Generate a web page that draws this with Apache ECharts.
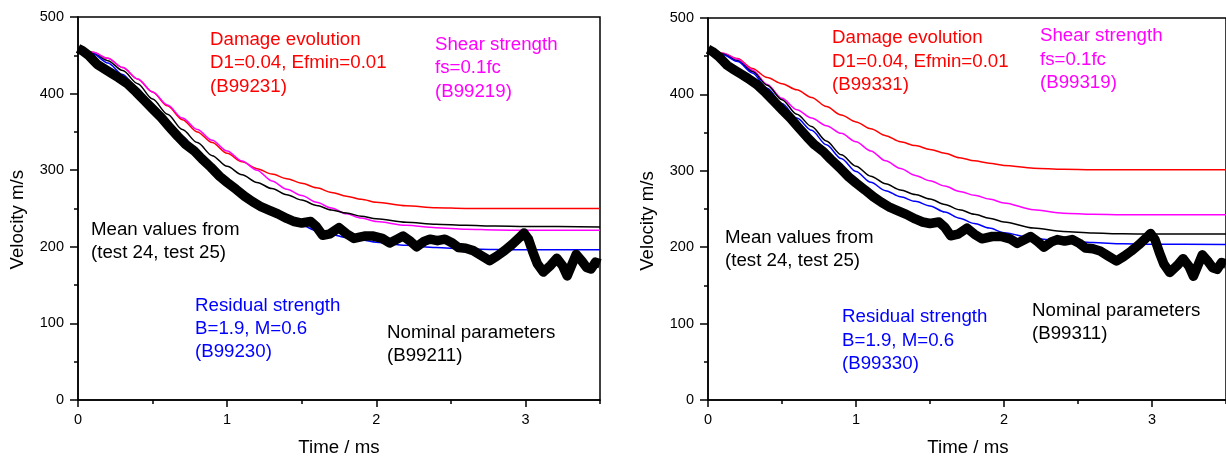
<!DOCTYPE html>
<html>
<head>
<meta charset="utf-8">
<script src="https://cdn.jsdelivr.net/npm/echarts@6/dist/echarts.min.js"></script>
<style>
  html, body { margin: 0; padding: 0; background: #fff; }
  #chart { width: 1226px; height: 459px; }
</style>
</head>
<body>
<div id="chart"></div>
<script>
// Simulation output time base (ms)
const modelTime = [0, 0.1, 0.2, 0.3, 0.4, 0.5, 0.6, 0.7, 0.8, 0.9, 1.0, 1.1, 1.2, 1.3, 1.4, 1.5, 1.6, 1.7, 1.8, 1.9, 2.0, 2.2, 2.4, 2.6, 2.8, 3.0, 3.5];

// Series B992xx (left panel), velocity in m/s
const leftDamage   = [458, 454, 446, 434, 419, 402, 384, 366, 350, 336, 322, 311, 302, 295, 289, 283, 277, 271, 266, 262, 258, 253.5, 251, 250, 250, 250, 250];
const leftShear    = [458, 454, 446, 434, 419, 402, 385, 368, 353, 339, 325, 312, 300, 286, 275, 267, 258, 250.5, 243, 237.5, 233, 228, 225, 223, 222, 221.5, 221.5];
const leftNominal  = [458, 452, 443, 430, 413, 393, 373, 353, 336, 319, 305, 294, 284, 276, 268, 261, 254, 248, 244, 240, 236.5, 232, 229.5, 228, 227, 226.5, 226];
const leftResidual = [458, 452, 440, 425, 406, 385, 364, 344, 325, 306, 288, 272, 258, 246, 236, 228, 221, 216, 212, 209, 206, 202, 199, 197, 196.5, 196, 196];

// Series B993xx (right panel), velocity in m/s
const rightDamage   = [458, 454, 447, 434, 422, 414, 406, 396, 384, 373, 364, 355, 346, 338, 333, 328, 323, 317, 313, 310, 307, 303.5, 302, 301.5, 301.5, 301.5, 301.5];
const rightShear    = [458, 454, 446, 432, 413, 395, 380, 369, 359, 349, 338, 326, 313, 303, 294, 287, 280, 273, 268, 263, 258, 249, 244.5, 243, 242.5, 242.5, 242.5];
const rightNominal  = [458, 453, 444, 430, 412, 393, 374, 358, 339, 321, 306, 293, 283, 275, 269, 263, 256, 249, 243, 238, 233, 225, 220.5, 218.5, 217.5, 217.3, 217.2];
const rightResidual = [458, 452, 443, 428, 408, 388, 369, 353, 334, 316, 299, 285, 274, 266, 260, 254, 246, 238, 231, 225, 219, 211.5, 208, 206, 204.5, 204, 203.5];

// Measured mean of test 24 and test 25
const expTime = [0, 0.03, 0.07, 0.1, 0.13, 0.17, 0.22, 0.27, 0.33, 0.39, 0.445, 0.5, 0.557, 0.61, 0.67, 0.72, 0.78, 0.83, 0.89, 0.95, 1.0, 1.06, 1.117, 1.17, 1.23, 1.28, 1.34, 1.4, 1.45, 1.5, 1.56, 1.6, 1.64, 1.69, 1.75, 1.8, 1.85, 1.92, 1.98, 2.04, 2.09, 2.14, 2.18, 2.23, 2.27, 2.32, 2.36, 2.41, 2.46, 2.51, 2.55, 2.6, 2.65, 2.7, 2.76, 2.81, 2.86, 2.91, 2.96, 2.99, 3.02, 3.05, 3.08, 3.12, 3.17, 3.21, 3.25, 3.28, 3.31, 3.34, 3.38, 3.41, 3.44, 3.47, 3.5];
const expVelocity = [459, 456, 450, 444, 438, 433, 427, 421, 413, 402, 391, 380, 369, 357, 344, 334, 325, 315, 304, 292, 284, 275, 266, 259, 252, 248, 243, 237, 233, 231, 233, 226, 215, 217, 225, 217, 211, 214, 214, 211, 205, 210, 214, 207, 200, 207, 210, 208, 210, 205, 199, 198, 195, 189, 182, 188, 195, 203, 212, 218, 210, 193, 178, 167, 176, 185, 175, 162, 176, 190, 181, 173, 171, 180, 178];

// Axis ticks
const xMajorTicks = [0, 1, 2, 3];
const xMinorTicks = [0.5, 1.5, 2.5, 3.5];
const yTickStep = 100;

const FONT_FAMILY = '"Liberation Sans", Arial, sans-serif';
const TEXT_FONT = '18.7px ' + FONT_FAMILY;
const RED = '#ff0000', MAGENTA = '#ff00ff', BLUE = '#0000ff', BLACK = '#000000';

function pairs(t, v) { return t.map((x, i) => [x, v[i]]); }

function mainXAxis(gridIndex) {
  return {
    type: 'value', gridIndex, min: 0, max: 3.5,
    axisLine: { show: true, onZero: false, lineStyle: { color: BLACK, width: 1.5 } },
    axisTick: { show: true, customValues: xMajorTicks, length: 7, lineStyle: { color: BLACK, width: 1.5 } },
    axisLabel: { show: true, customValues: xMajorTicks, margin: 12, color: BLACK, fontSize: 14.5, fontFamily: FONT_FAMILY },
    splitLine: { show: false }
  };
}
function minorXAxis(gridIndex) {
  return {
    type: 'value', gridIndex, min: 0, max: 3.5, position: 'bottom',
    axisLine: { show: false, onZero: false },
    axisTick: { show: true, customValues: xMinorTicks, length: 4, lineStyle: { color: BLACK, width: 1.5 } },
    axisLabel: { show: false },
    splitLine: { show: false }
  };
}
function yAxisFor(gridIndex) {
  return {
    type: 'value', gridIndex, min: 0, max: 500, interval: yTickStep,
    axisLine: { show: true, onZero: false, lineStyle: { color: BLACK, width: 1.5 } },
    axisTick: { show: true, length: 8, lineStyle: { color: BLACK, width: 1.5 } },
    minorTick: { show: true, splitNumber: 2, length: 4, lineStyle: { color: BLACK, width: 1.5 } },
    axisLabel: { margin: 14, color: BLACK, fontSize: 14.5, fontFamily: FONT_FAMILY },
    splitLine: { show: false }
  };
}
function modelLine(name, data, color, xi, yi) {
  return {
    name, type: 'line', xAxisIndex: xi, yAxisIndex: yi, data,
    showSymbol: false, symbol: 'none', smooth: 0.3, smoothMonotone: 'x',
    lineStyle: { color, width: 1.5 }, z: 2
  };
}
function testLine(xi, yi) {
  return {
    name: 'Mean values from (test 24, test 25)', type: 'line', xAxisIndex: xi, yAxisIndex: yi,
    data: pairs(expTime, expVelocity), showSymbol: false, symbol: 'none',
    lineStyle: { color: BLACK, width: 9.5, join: 'round', cap: 'butt' }, z: 3
  };
}
function note(x, y, lines, color) {
  return {
    type: 'text', x, y, silent: true,
    style: { text: lines.join('\n'), fill: color, font: TEXT_FONT, lineHeight: 23.3, align: 'left', verticalAlign: 'top' }
  };
}
function title(x, y, text, rotation) {
  return {
    type: 'text', x, y, rotation: rotation || 0, silent: true,
    style: { text, fill: BLACK, font: TEXT_FONT, align: 'center', verticalAlign: 'middle' }
  };
}

const chart = echarts.init(document.getElementById('chart'), null, { renderer: 'canvas' });
chart.setOption({
  backgroundColor: '#ffffff',
  animation: false,
  grid: [
    { left: 78, top: 17, width: 522, height: 383, show: true, borderColor: BLACK, borderWidth: 1.5, backgroundColor: 'transparent' },
    { left: 708, top: 18, width: 520, height: 382, show: true, borderColor: BLACK, borderWidth: 1.5, backgroundColor: 'transparent' }
  ],
  xAxis: [mainXAxis(0), minorXAxis(0), mainXAxis(1), minorXAxis(1)],
  yAxis: [yAxisFor(0), yAxisFor(1)],
  series: [
    modelLine('B99231', pairs(modelTime, leftDamage), RED, 0, 0),
    modelLine('B99219', pairs(modelTime, leftShear), MAGENTA, 0, 0),
    modelLine('B99211', pairs(modelTime, leftNominal), BLACK, 0, 0),
    modelLine('B99230', pairs(modelTime, leftResidual), BLUE, 0, 0),
    testLine(0, 0),
    modelLine('B99331', pairs(modelTime, rightDamage), RED, 2, 1),
    modelLine('B99319', pairs(modelTime, rightShear), MAGENTA, 2, 1),
    modelLine('B99311', pairs(modelTime, rightNominal), BLACK, 2, 1),
    modelLine('B99330', pairs(modelTime, rightResidual), BLUE, 2, 1),
    testLine(2, 1)
  ],
  graphic: [
    // left panel
    note(210, 28.3, ['Damage evolution', 'D1=0.04, Efmin=0.01', '(B99231)'], RED),
    note(435, 33.3, ['Shear strength', 'fs=0.1fc', '(B99219)'], MAGENTA),
    note(91, 218, ['Mean values from', '(test 24, test 25)'], BLACK),
    note(195, 294, ['Residual strength', 'B=1.9, M=0.6', '(B99230)'], BLUE),
    note(387, 321, ['Nominal parameters', '(B99211)'], BLACK),
    title(339, 447.5, 'Time / ms'),
    title(18.3, 219.7, 'Velocity m/s', Math.PI / 2),
    // right panel
    note(832, 26.7, ['Damage evolution', 'D1=0.04, Efmin=0.01', '(B99331)'], RED),
    note(1040, 24.7, ['Shear strength', 'fs=0.1fc', '(B99319)'], MAGENTA),
    note(725, 226, ['Mean values from', '(test 24, test 25)'], BLACK),
    note(842, 305.7, ['Residual strength', 'B=1.9, M=0.6', '(B99330)'], BLUE),
    note(1032, 299, ['Nominal parameters', '(B99311)'], BLACK),
    title(968, 447.5, 'Time / ms'),
    title(648.3, 221, 'Velocity m/s', Math.PI / 2)
  ]
});
</script>
</body>
</html>
